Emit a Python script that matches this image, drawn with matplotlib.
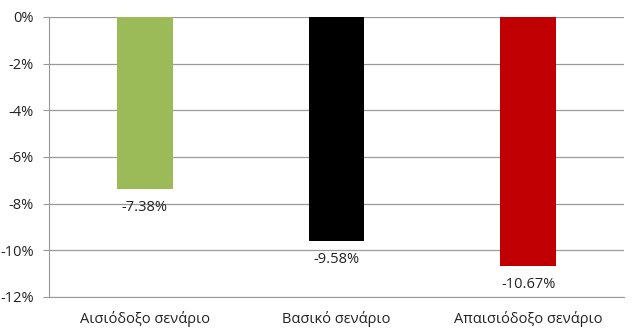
import matplotlib
matplotlib.use("Agg")
import matplotlib.pyplot as plt
import numpy as np
from matplotlib.ticker import FuncFormatter

categories = ["Αισιόδοξο σενάριο", "Βασικό σενάριο", "Απαισιόδοξο σενάριο"]
values = [-7.38, -9.58, -10.67]
colors = ["#9BBB59", "#000000", "#C00000"]
yticks = [0, -2, -4, -6, -8, -10, -12]

plt.rcParams['font.family'] = ['Open Sans', 'DejaVu Sans']
plt.rcParams['axes.unicode_minus'] = False

fig = plt.figure(figsize=(6.34, 3.35), dpi=100)
ax = fig.add_axes([49 / 634, 1 - 297 / 335, (624 - 49) / 634, (297 - 17) / 335])

x = np.arange(len(categories))
ax.bar(x, values, width=0.29, color=colors, zorder=3)
for xi, v in zip(x, values):
    ax.annotate(f"{v:.2f}%", (xi, v), xytext=(0, -8), textcoords="offset points",
                ha="center", va="top", fontsize=10.5, color="#222222")

ax.set_xlim(-0.5, 2.5)
ax.set_ylim(-12, 0)
ax.set_yticks(yticks)
ax.yaxis.set_major_formatter(FuncFormatter(lambda v, p: f"{v:.0f}%"))
ax.set_xticks(x)
ax.set_xticklabels(categories)
ax.tick_params(axis="x", length=0, pad=10, labelsize=10.5, colors="#222222")
ax.tick_params(axis="y", length=4, color="#999999", pad=7, labelsize=10.5, labelcolor="#222222")
ax.grid(axis="y", color="#999999", linewidth=0.9, zorder=0)
for s in ["top", "right"]:
    ax.spines[s].set_visible(False)
ax.spines["left"].set_color("#999999")
ax.spines["bottom"].set_color("#999999")

fig.savefig("out.png", dpi=100)
